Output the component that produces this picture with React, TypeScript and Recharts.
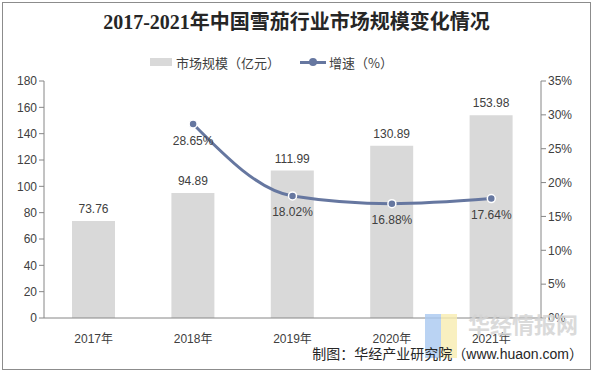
import {
    ComposedChart,
    Bar,
    Line,
    XAxis,
    YAxis,
    LabelList,
} from "recharts";

const years = ["2017年", "2018年", "2019年", "2020年", "2021年"];
const marketSize = [73.76, 94.89, 111.99, 130.89, 153.98];
const growth = [null, 28.65, 18.02, 16.88, 17.64];
const leftTicks = [0, 20, 40, 60, 80, 100, 120, 140, 160, 180];
const rightTicks = [0, 5, 10, 15, 20, 25, 30, 35];
const boundaryTicks = [0, 1, 2, 3, 4, 5];

const data = years.map((year, i) => ({
    year,
    size: marketSize[i],
    rate: growth[i],
}));

const FONT = '"Liberation Sans", Arial, "Noto Sans CJK SC", sans-serif';
const TEXT = "#404040";
const AXIS = "#868686";
const LINE = "#6677a0";

export default function App() {
    return (
        <div
            style={{
                position: "absolute",
                left: 0,
                top: 0,
                width: 593,
                height: 372,
                background: "#fff",
                fontFamily: FONT,
                overflow: "hidden",
            }}
        >
            {/* outer frame */}
            <div
                style={{
                    position: "absolute",
                    left: 2,
                    top: 2,
                    width: 587,
                    height: 366,
                    border: "1px solid #8c8c8c",
                }}
            />

            {/* Title */}
            <div
                style={{
                    position: "absolute",
                    left: 0,
                    top: 9,
                    width: 593,
                    textAlign: "center",
                    fontFamily: '"Liberation Serif", "Noto Sans CJK SC", serif',
                    fontWeight: "bold",
                    fontSize: 20,
                    color: "#262626",
                    lineHeight: "26px",
                }}
            >
                2017-2021年中国雪茄行业市场规模变化情况
            </div>

            {/* Legend */}
            <div
                style={{
                    position: "absolute",
                    left: 150,
                    top: 53,
                    height: 18,
                    display: "flex",
                    alignItems: "center",
                    fontSize: 13,
                    color: TEXT,
                    fontFamily: '"Noto Sans CJK SC", sans-serif',
                }}
            >
                <span style={{ width: 22, height: 8, background: "#d9d9d9", marginRight: 4 }} />
                <span>市场规模（亿元）</span>
                <span style={{ position: "relative", width: 26, height: 10, marginLeft: 20, marginRight: 3 }}>
                    <span style={{ position: "absolute", left: 0, top: 4, width: 26, height: 3, background: LINE }} />
                    <span
                        style={{
                            position: "absolute",
                            left: 9,
                            top: 1,
                            width: 8,
                            height: 8,
                            borderRadius: 4,
                            background: LINE,
                        }}
                    />
                </span>
                <span>增速（%）</span>
            </div>

            <ComposedChart
                width={593}
                height={372}
                data={data}
                margin={{ top: 81, right: 0, bottom: 24, left: 0 }}
                style={{ position: "absolute", left: 0, top: 0 }}
            >
                <XAxis
                    xAxisId="bounds"
                    type="number"
                    domain={[0, 5]}
                    ticks={boundaryTicks}
                    tickFormatter={() => ""}
                    axisLine={false}
                    tickLine={{ stroke: AXIS }}
                    tickSize={5}
                    height={0}
                />
                <XAxis
                    dataKey="year"
                    axisLine={{ stroke: AXIS }}
                    tickLine={false}
                    height={30}
                    tick={{ fill: TEXT, fontSize: 12, fontFamily: FONT }}
                    tickMargin={10}
                />
                <YAxis
                    yAxisId="left"
                    domain={[0, 180]}
                    ticks={leftTicks}
                    width={44}
                    axisLine={{ stroke: AXIS }}
                    tickLine={{ stroke: AXIS }}
                    tickSize={5}
                    tick={{ fill: TEXT, fontSize: 12, fontFamily: FONT }}
                />
                <YAxis
                    yAxisId="right"
                    orientation="right"
                    domain={[0, 35]}
                    ticks={rightTicks}
                    width={52}
                    axisLine={{ stroke: AXIS }}
                    tickLine={{ stroke: AXIS }}
                    tickSize={5}
                    tickFormatter={(v: number) => `${v}%`}
                    tick={{ fill: TEXT, fontSize: 12, fontFamily: FONT }}
                />
                <Bar
                    yAxisId="left"
                    dataKey="size"
                    fill="#d9d9d9"
                    barSize={43}
                    isAnimationActive={false}
                >
                    <LabelList
                        dataKey="size"
                        position="top"
                        offset={8}
                        fill={TEXT}
                        fontSize={12}
                        formatter={(v: number) => v.toFixed(2)}
                    />
                </Bar>
                <Line
                    yAxisId="right"
                    dataKey="rate"
                    type="monotone"
                    stroke={LINE}
                    strokeWidth={3}
                    dot={{ r: 4, fill: LINE, stroke: "#fff", strokeWidth: 1.5 }}
                    connectNulls={false}
                    isAnimationActive={false}
                >
                    <LabelList
                        dataKey="rate"
                        position="bottom"
                        offset={12}
                        fill={TEXT}
                        fontSize={12}
                        formatter={(v: number | null) => (v == null ? "" : `${v.toFixed(2)}%`)}
                    />
                </Line>
            </ComposedChart>

            {/* watermark */}
            <div style={{ position: "absolute", left: 425, top: 314, width: 16, height: 44, background: "#a9c8f0", opacity: 0.8 }} />
            <div style={{ position: "absolute", left: 441, top: 314, width: 16, height: 44, background: "#f8ecb0", opacity: 0.8 }} />
            <div
                style={{
                    position: "absolute",
                    left: 468,
                    top: 310,
                    fontSize: 22,
                    fontWeight: "bold",
                    color: "#d4d4d4",
                    fontFamily: '"Noto Sans CJK SC", sans-serif',
                    opacity: 0.85,
                    lineHeight: "26px",
                }}
            >
                华经情报网
            </div>

            {/* Source */}
            <div
                style={{
                    position: "absolute",
                    right: 10,
                    top: 345,
                    fontSize: 14,
                    color: "#262626",
                    fontFamily: FONT,
                    lineHeight: "18px",
                }}
            >
                制图：华经产业研究院（www.huaon.com）
            </div>
        </div>
    );
}
